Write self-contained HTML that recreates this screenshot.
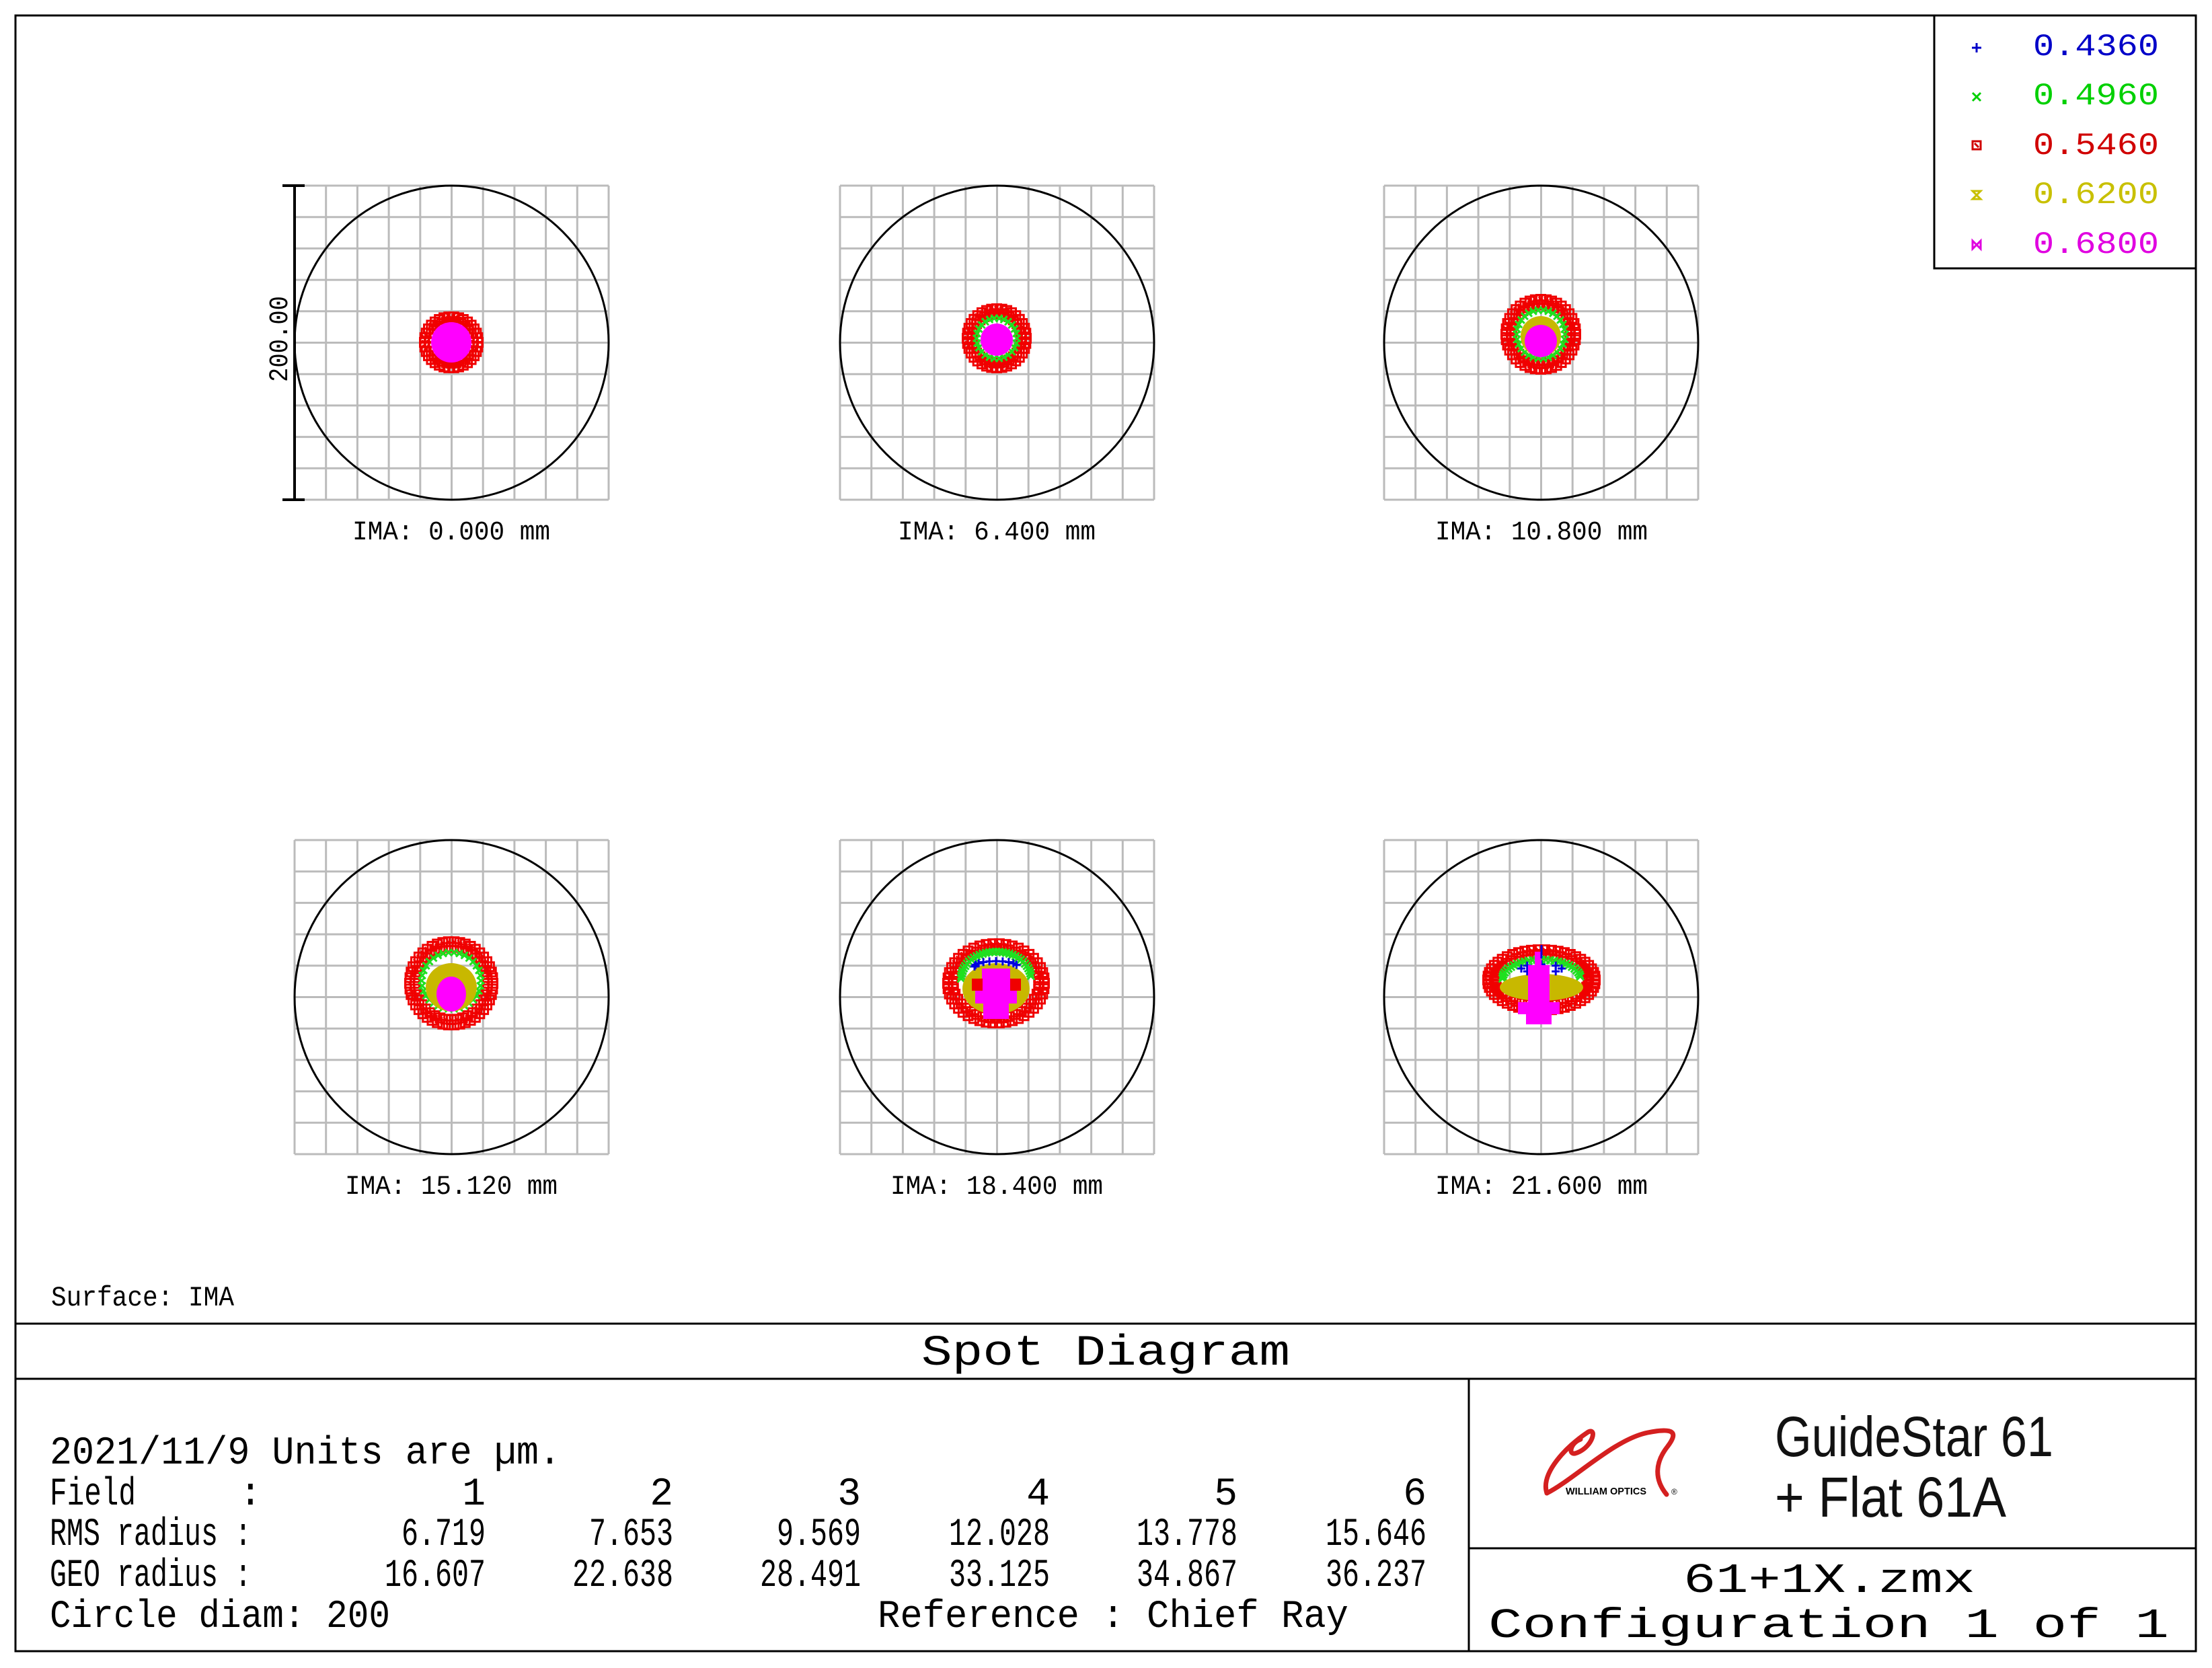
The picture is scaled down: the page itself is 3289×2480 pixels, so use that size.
<!DOCTYPE html>
<html><head><meta charset="utf-8"><style>
html,body{margin:0;padding:0;background:#fff}
svg{display:block}
</style></head><body>
<svg id="s" width="3289" height="2480" viewBox="0 0 3289 2480" xmlns="http://www.w3.org/2000/svg">
<rect x="0" y="0" width="3289" height="2480" fill="#fff"/>
<g id="grids"></g>
<g id="spots"></g>
<!-- frame -->
<g stroke="#000" stroke-width="3" fill="none">
<rect x="23" y="23" width="3242" height="2432"/>
<line x1="23" y1="1968" x2="3265" y2="1968"/>
<line x1="23" y1="2050" x2="3265" y2="2050"/>
<line x1="2184" y1="2050" x2="2184" y2="2455"/>
<line x1="2184" y1="2302" x2="3265" y2="2302"/>
<polyline points="2876,23 2876,399 3265,399"/>
</g>
<!-- scale bar -->
<g stroke="#000" stroke-width="4">
<line x1="438" y1="276" x2="438" y2="743"/>
<line x1="420" y1="276" x2="453" y2="276"/>
<line x1="420" y1="743" x2="453" y2="743"/>
</g>
<text transform="translate(427,504) rotate(-90)" text-anchor="middle" font-family="Liberation Mono, monospace" font-size="40" textLength="128" lengthAdjust="spacingAndGlyphs">200.00</text>
<g font-family="Liberation Mono, monospace" font-size="40" fill="#000" text-anchor="middle">
<text x="671" y="802" textLength="294" lengthAdjust="spacingAndGlyphs">IMA: 0.000 mm</text>
<text x="1482" y="802" textLength="294" lengthAdjust="spacingAndGlyphs">IMA: 6.400 mm</text>
<text x="2292" y="802" textLength="316" lengthAdjust="spacingAndGlyphs">IMA: 10.800 mm</text>
<text x="671" y="1775" textLength="316" lengthAdjust="spacingAndGlyphs">IMA: 15.120 mm</text>
<text x="1482" y="1775" textLength="316" lengthAdjust="spacingAndGlyphs">IMA: 18.400 mm</text>
<text x="2292" y="1775" textLength="316" lengthAdjust="spacingAndGlyphs">IMA: 21.600 mm</text>
</g>
<!-- legend -->
<g font-family="Liberation Mono, monospace" font-size="46">
<text x="3023" y="82" fill="#0000c8" textLength="187" lengthAdjust="spacingAndGlyphs">0.4360</text>
<text x="3023" y="155" fill="#00d000" textLength="187" lengthAdjust="spacingAndGlyphs">0.4960</text>
<text x="3023" y="229" fill="#d00000" textLength="187" lengthAdjust="spacingAndGlyphs">0.5460</text>
<text x="3023" y="302" fill="#c8c000" textLength="187" lengthAdjust="spacingAndGlyphs">0.6200</text>
<text x="3023" y="376" fill="#e000e0" textLength="187" lengthAdjust="spacingAndGlyphs">0.6800</text>
</g>
<g stroke-width="3" fill="none">
<path d="M2939 64v14M2932 71h14" stroke="#0000c8"/>
<path d="M2933 138l12 12M2945 138l-12 12" stroke="#00d000"/>
<rect x="2933" y="210" width="12" height="12" stroke="#d00000"/>
<path d="M2936 213l6 6" stroke="#d00000"/>
<path d="M2933 284h12l-12 12h12z" stroke="#c8c000"/>
<path d="M2933 358v12l12-12v12z" stroke="#e000e0"/>
</g>
<!-- text -->
<text x="76" y="1941" font-family="Liberation Mono, monospace" font-size="42" textLength="272" lengthAdjust="spacingAndGlyphs">Surface: IMA</text>
<text x="1370" y="2029" font-family="Liberation Mono, monospace" font-size="64" textLength="548" lengthAdjust="spacingAndGlyphs">Spot Diagram</text>
<g font-family="Liberation Mono, monospace" font-size="58" fill="#000">
<text x="74" y="2176" textLength="760" lengthAdjust="spacingAndGlyphs">2021/11/9  Units are µm.</text>
<text x="74" y="2237" textLength="128" lengthAdjust="spacingAndGlyphs">Field</text>
<text x="355" y="2237">:</text>
<text x="74" y="2297" textLength="300" lengthAdjust="spacingAndGlyphs">RMS radius :</text>
<text x="74" y="2358" textLength="300" lengthAdjust="spacingAndGlyphs">GEO radius :</text>
<text x="74" y="2419" textLength="506" lengthAdjust="spacingAndGlyphs">Circle diam: 200</text>
<text x="1305" y="2419" textLength="700" lengthAdjust="spacingAndGlyphs">Reference  : Chief Ray</text>
</g>
<g font-family="Liberation Mono, monospace" font-size="58" text-anchor="end" id="nums"></g>
<!-- logo -->
<g fill="none" stroke="#d42020" stroke-width="7" stroke-linecap="round">
<path d="M2300 2220 C2290 2190 2330 2150 2360 2130 C2375 2120 2370 2150 2345 2160 C2330 2166 2335 2145 2350 2140"/>
<path d="M2300 2220 C2340 2200 2400 2140 2450 2130 C2490 2122 2495 2130 2480 2150 C2460 2175 2460 2200 2478 2222"/>
</g>
<text x="2328" y="2222" font-family="Liberation Sans, sans-serif" font-weight="bold" font-size="15" textLength="120" lengthAdjust="spacingAndGlyphs">WILLIAM OPTICS</text>
<text x="2485" y="2222" font-family="Liberation Sans, sans-serif" font-size="12">®</text>
<g font-family="Liberation Sans, sans-serif" font-size="84" fill="#111">
<text x="2639" y="2165" textLength="414" lengthAdjust="spacingAndGlyphs">GuideStar 61</text>
<text x="2639" y="2255" textLength="344" lengthAdjust="spacingAndGlyphs">+ Flat 61A</text>
</g>
<g font-family="Liberation Mono, monospace" font-size="62">
<text x="2503" y="2367" textLength="434" lengthAdjust="spacingAndGlyphs">61+1X.zmx</text>
<text x="2213" y="2434" textLength="1012" lengthAdjust="spacingAndGlyphs">Configuration 1 of 1</text>
</g>
</svg>
<script>
var NS="http://www.w3.org/2000/svg";
function el(p,t,a){var e=document.createElementNS(NS,t);for(var k in a)e.setAttribute(k,a[k]);p.appendChild(e);return e;}
var G=document.getElementById('grids'),S=document.getElementById('spots'),N=document.getElementById('nums');
var xs=[438,1249,2058],ys=[276,1249],W=467;
ys.forEach(function(y){xs.forEach(function(x){
 for(var i=0;i<=10;i++){var d=i*W/10;
  el(G,'line',{x1:x+d,y1:y,x2:x+d,y2:y+W,stroke:'#bbb','stroke-width':3});
  el(G,'line',{x1:x,y1:y+d,x2:x+W,y2:y+d,stroke:'#bbb','stroke-width':3});}
 el(G,'circle',{cx:x+W/2,cy:y+W/2,r:W/2,fill:'none',stroke:'#000','stroke-width':3});
});});
function ring(cx,cy,rx,ry,n,kind,col,sz,a0,a1){
 a0=a0===undefined?0:a0;a1=a1===undefined?Math.PI*2:a1;
 for(var i=0;i<n;i++){var a=a0+(a1-a0)*i/n;var x=cx+rx*Math.cos(a),y=cy+ry*Math.sin(a),h=sz/2;
  if(kind=='sq'){el(S,'rect',{x:x-h,y:y-h,width:sz,height:sz,fill:'none',stroke:col,'stroke-width':3});
   el(S,'line',{x1:x-h+3,y1:y-h+3,x2:x,y2:y,stroke:col,'stroke-width':2});}
  else if(kind=='x'){el(S,'path',{d:'M'+(x-h)+' '+(y-h)+'l'+sz+' '+sz+'M'+(x+h)+' '+(y-h)+'l'+(-sz)+' '+sz,stroke:col,'stroke-width':3,fill:'none'});}
  else if(kind=='+'){el(S,'path',{d:'M'+(x-h)+' '+y+'h'+sz+'M'+x+' '+(y-h)+'v'+sz,stroke:col,'stroke-width':3,fill:'none'});}
 }}
function ell(cx,cy,rx,ry,col){el(S,'ellipse',{cx:cx,cy:cy,rx:rx,ry:ry,fill:col});}
var R='#f00000',Gr='#20e020',Y='#c8b800',M='#ff00ff',B='#0000e0';
// F1
ring(671,509,40,38,34,'sq',R,13);ring(671,509,33,31,28,'sq',R,13);ell(671,509,30,30,M);
// F2
ring(1482,503,44,44,36,'sq',R,13);ring(1482,503,37,37,30,'sq',R,13);ring(1482,503,30,30,26,'x',Gr,10);ell(1482,505,24,24,M);
// F3
ring(2291,497,52,52,40,'sq',R,13);ring(2291,497,44,44,34,'sq',R,13);ring(2291,497,36,36,30,'x',Gr,10);ell(2291,500,30,30,Y);ell(2291,507,24,24,M);
// F4
ring(671,1462,62,62,46,'sq',R,13);ring(671,1462,54,54,40,'sq',R,13);ring(671,1458,44,42,34,'x',Gr,10);ell(671,1468,38,36,Y);ell(671,1478,22,26,M);
// F5
ring(1481,1462,72,59,46,'sq',R,13);ring(1481,1462,64,52,40,'sq',R,13);ring(1481,1455,52,40,32,'x',Gr,11,Math.PI,2*Math.PI);
ell(1481,1470,50,38,Y);ring(1481,1437,32,8,10,'+',B,12,Math.PI,2*Math.PI);
el(S,'path',{d:'M1460 1440h42v30h10v22h-12v23h-38v-23h-12v-22h10z',fill:M});
el(S,'rect',{x:1445,y:1455,width:16,height:18,fill:R});el(S,'rect',{x:1502,y:1455,width:16,height:18,fill:R});
// F6
ring(2292,1457,80,45,50,'sq',R,13);ring(2292,1457,70,38,44,'sq',R,13);ring(2292,1455,58,28,28,'x',Gr,11,Math.PI,2*Math.PI);
ell(2292,1468,62,20,Y);ring(2292,1440,30,6,8,'+',B,12);
el(S,'path',{d:'M2282 1415h10v20h12v55h15v18h-12v15h-38v-15h-12v-18h15v-55h10z',fill:M});
el(S,'path',{d:'M2292 1405v20',stroke:B,'stroke-width':3});
// numbers
var cols=[722,1001,1280,1561,1840,2121];
var rows=[[2237,['1','2','3','4','5','6']],[2297,['6.719','7.653','9.569','12.028','13.778','15.646']],[2358,['16.607','22.638','28.491','33.125','34.867','36.237']]];
rows.forEach(function(r){r[1].forEach(function(t,i){var e=el(N,'text',{x:cols[i],y:r[0]});
 if(t.length>1){e.setAttribute('textLength',t.length*25);e.setAttribute('lengthAdjust','spacingAndGlyphs');}
 e.textContent=t;});});
</script>
</body></html>
